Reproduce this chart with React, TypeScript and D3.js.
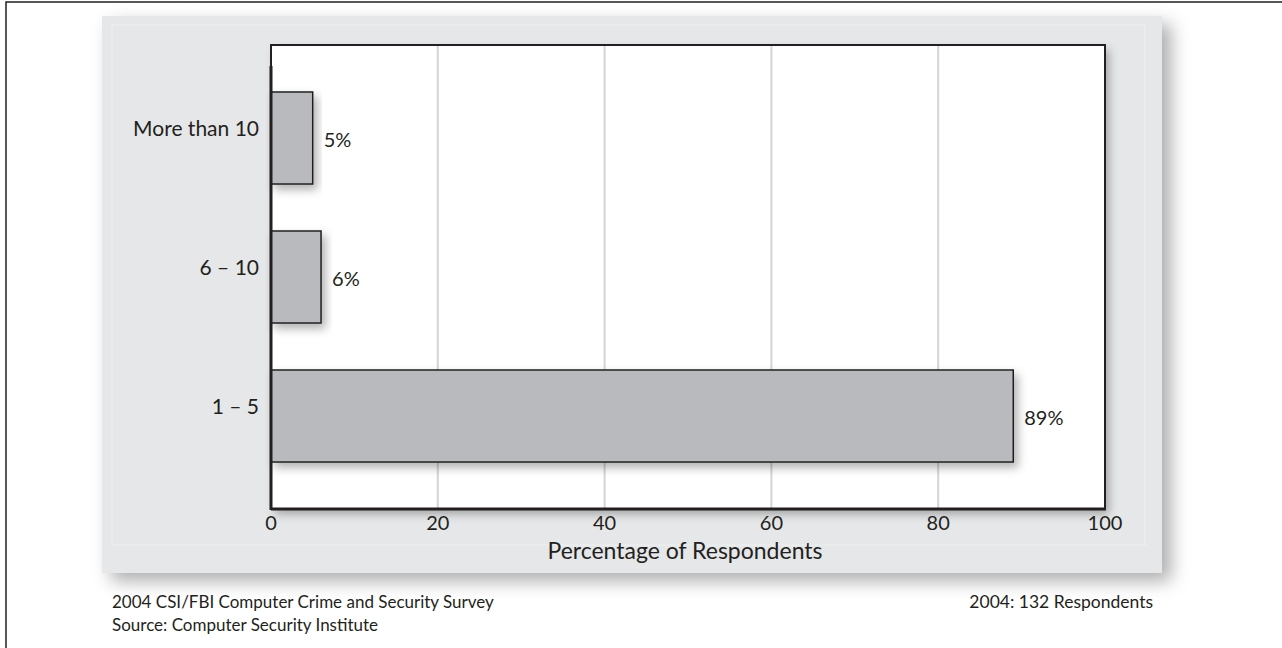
import React from "react";
import * as d3 from "d3";

const categories = ["More than 10", "6 – 10", "1 – 5"];
const values = [5, 6, 89];
const valueLabels = ["5%", "6%", "89%"];
const xTicks = [0, 20, 40, 60, 80, 100];
const xTitle = "Percentage of Respondents";
const footLeft = ["2004 CSI/FBI Computer Crime and Security Survey", "Source: Computer Security Institute"];
const footRight = "2004: 132 Respondents";

const W = 1282;
const H = 648;
const plot = { x0: 271, x1: 1105, y0: 45, y1: 509 };
const font = "'Lato', 'Open Sans', sans-serif";
const ink = "#231f20";

export default function App() {
  const x = d3.scaleLinear().domain([0, 100]).range([plot.x0, plot.x1]);
  const y = d3.scaleBand<string>().domain(categories).range([plot.y0, plot.y1]).paddingInner(0.338).paddingOuter(0.338);

  return (
    <svg width={W} height={H} style={{ position: "absolute", left: 0, top: 0, background: "#fff" }}>
      <defs>
        <filter id="panelShadow" x="-5%" y="-5%" width="115%" height="120%">
          <feDropShadow dx="9" dy="8" stdDeviation="9" floodColor="#000" floodOpacity="0.32" />
        </filter>
        <filter id="barShadow" x="-10%" y="-20%" width="130%" height="160%">
          <feDropShadow dx="4" dy="5" stdDeviation="5" floodColor="#000" floodOpacity="0.3" />
        </filter>
      </defs>
      {/* outer frame */}
      <rect x={6} y={2} width={W + 20} height={H + 20} fill="none" stroke={ink} strokeWidth={1.5} />
      {/* panel */}
      <rect x={102} y={16} width={1060} height={557} fill="#e6e7e8" filter="url(#panelShadow)" />
      <rect x={112} y={25} width={1033} height={520} fill="none" stroke="#eeeff0" strokeWidth={1} />
      {/* plot area */}
      <rect x={plot.x0} y={plot.y0} width={plot.x1 - plot.x0} height={plot.y1 - plot.y0} fill="#fff" filter="url(#barShadow)" />
      {/* gridlines */}
      {xTicks.filter((t) => t > 0 && t < 100).map((t) => (
        <line key={t} x1={x(t)} x2={x(t)} y1={plot.y0} y2={plot.y1} stroke="#d3d4d5" strokeWidth={2} />
      ))}
      <rect x={plot.x0} y={plot.y0} width={plot.x1 - plot.x0} height={plot.y1 - plot.y0} fill="none" stroke={ink} strokeWidth={2} />
      {/* bars */}
      {categories.map((c, i) => (
        <rect key={c} x={x(0)} y={y(c)!} width={x(values[i]) - x(0)} height={y.bandwidth()}
          fill="#b9babd" stroke={ink} strokeWidth={1.5} filter="url(#barShadow)" />
      ))}
      {/* axis lines */}
      <line x1={plot.x0} x2={plot.x0} y1={66} y2={plot.y1 + 1} stroke={ink} strokeWidth={3} />
      <line x1={plot.x0} x2={plot.x1 + 1} y1={plot.y1} y2={plot.y1} stroke={ink} strokeWidth={3} />
      {/* category labels */}
      {categories.map((c) => (
        <text key={c} x={plot.x0 - 12} y={y(c)! + y.bandwidth() / 2 - 2} textAnchor="end" fontFamily={font} fontSize={21} fill={ink}>
          {c}
        </text>
      ))}
      {/* value labels */}
      {categories.map((c, i) => (
        <text key={c} x={x(values[i]) + 11} y={y(c)! + y.bandwidth() / 2 + 9} fontFamily={font} fontSize={20} fill={ink}>
          {valueLabels[i]}
        </text>
      ))}
      {/* ticks */}
      {xTicks.map((t) => (
        <text key={t} x={x(t)} y={530} textAnchor="middle" fontFamily={font} fontSize={20} fill={ink}>
          {t}
        </text>
      ))}
      <text x={685} y={559} textAnchor="middle" fontFamily={font} fontSize={23} fill={ink}>
        {xTitle}
      </text>
      {/* footer */}
      {footLeft.map((s, i) => (
        <text key={s} x={112} y={608 + i * 23} fontFamily={font} fontSize={17} fill={ink}>
          {s}
        </text>
      ))}
      <text x={1153} y={608} textAnchor="end" fontFamily={font} fontSize={17.5} fill={ink}>
        {footRight}
      </text>
    </svg>
  );
}
